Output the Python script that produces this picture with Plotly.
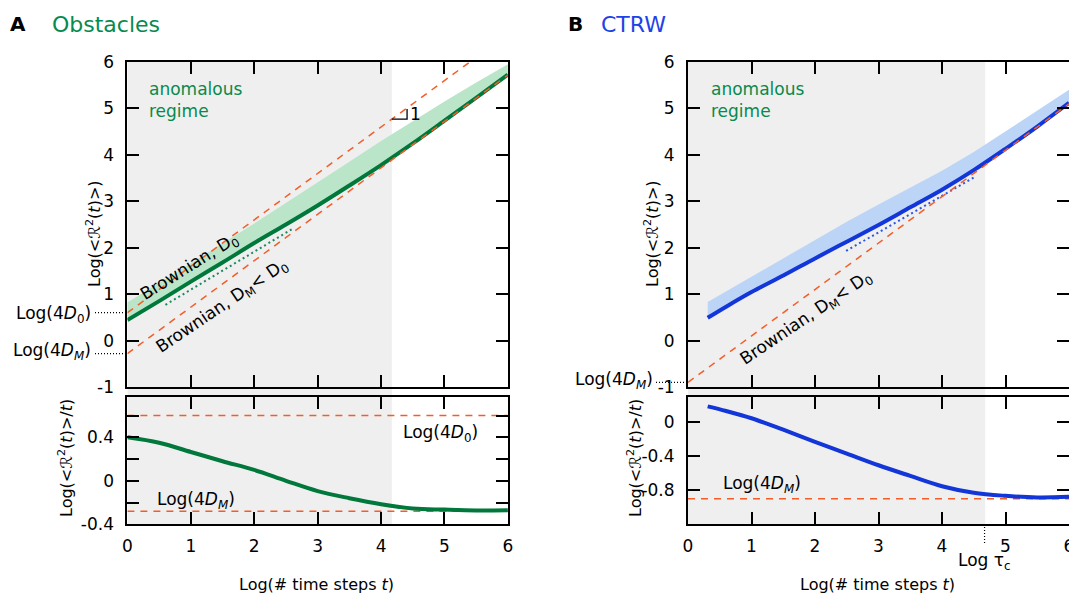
import plotly.graph_objects as go

W, H = 1069, 594

# ---------------- data ----------------
# Panel A: Obstacles
t_A = [0, 0.5, 1, 1.5, 2, 2.5, 3, 3.5, 4, 4.5, 5, 5.5, 6]
msd_A = [0.44, 0.85, 1.27, 1.68, 2.10, 2.50, 2.91, 3.34, 3.78, 4.245, 4.735, 5.23, 5.73]
band_A = [0.82, 1.24, 1.66, 2.09, 2.52, 2.96, 3.40, 3.85, 4.30, 4.73, 5.15, 5.56, 5.95]
ratio_A = [0.40, 0.35, 0.265, 0.18, 0.10, 0.0, -0.095, -0.16, -0.215, -0.255, -0.265, -0.272, -0.27]
fit_A_t = [0.6, 2.62]
fit_A_y = [0.77, 2.42]
log4D0_A = 0.6
log4DM_A = -0.28
anomalous_end_A = 4.17

# Panel B: CTRW
t_B = [0.31, 0.6, 1, 1.5, 2, 2.5, 3, 3.5, 4, 4.5, 5, 5.5, 6]
msd_B = [0.49, 0.73, 1.045, 1.40, 1.77, 2.13, 2.49, 2.87, 3.25, 3.67, 4.13, 4.61, 5.12]
band_B = [0.83, 1.06, 1.37, 1.77, 2.17, 2.56, 2.93, 3.30, 3.66, 4.06, 4.51, 4.96, 5.40]
ratio_B = [0.184, 0.13, 0.045, -0.09, -0.232, -0.37, -0.507, -0.632, -0.753, -0.83, -0.866, -0.885, -0.878]
fit_B_t = [2.49, 4.5]
fit_B_y = [1.93, 3.51]
log4DM_B = -0.9
log_tau_c = 4.67

brown_t = [0, 6]

x_ticks = [0, 1, 2, 3, 4, 5, 6]
x_ticktext = ["0", "1", "2", "3", "4", "5", "6"]
y_top_ticks = [-1, 0, 1, 2, 3, 4, 5, 6]
y_top_ticktext = ["-1", "0", "1", "2", "3", "4", "5", "6"]
yA_bot_ticks = [-0.4, -0.2, 0, 0.2, 0.4, 0.6]
yA_bot_ticktext = ["-0.4", "", "0", "", "0.4", ""]
yB_bot_ticks = [-1.2, -0.8, -0.4, 0]
yB_bot_ticktext = ["", "-0.8", "-0.4", "0"]

# ---------------- styles ----------------
FONT = "DejaVu Sans"
ORANGE = "#f45d28"
GREEN_DARK = "#00773b"
GREEN_LIGHT = "#bae5c8"
GREEN_TEXT = "#078a4d"
BLUE_DARK = "#1236d8"
BLUE_LIGHT = "#bcd5f7"
BLUE_TEXT = "#1d43e6"
GREY = "#efefef"
DASH = "7px,6px"

# layout geometry (pixels -> paper)
def px(v):
    return v / W

def py(v):
    return 1 - v / H

domA = [px(127.4), px(507.9)]
domB = [px(688), 1.0]
dom_top = [py(387), py(62)]
dom_bot = [py(524.3), py(396.5)]

fig = go.Figure()

def add(tr):
    tr.update(showlegend=False, hoverinfo="skip")
    fig.add_trace(tr)

# ---- Panel A top ----
add(go.Scatter(x=t_A + t_A[::-1], y=band_A + msd_A[::-1], fill="toself",
               fillcolor=GREEN_LIGHT, line=dict(width=0), mode="lines",
               xaxis="x", yaxis="y"))
add(go.Scatter(x=t_A, y=msd_A, mode="lines", line=dict(color=GREEN_DARK, width=4, shape="spline"),
               xaxis="x", yaxis="y"))
add(go.Scatter(x=fit_A_t, y=fit_A_y, mode="lines",
               line=dict(color="#1a8a5c", width=2, dash="2px,3px"), xaxis="x", yaxis="y"))
for c in (log4D0_A, log4DM_A):
    add(go.Scatter(x=brown_t, y=[t + c for t in brown_t], mode="lines",
                   line=dict(color=ORANGE, width=1.5, dash=DASH), xaxis="x", yaxis="y"))

# ---- Panel A bottom ----
for c in (log4D0_A, log4DM_A):
    add(go.Scatter(x=brown_t, y=[c, c], mode="lines",
                   line=dict(color=ORANGE, width=1.5, dash=DASH), xaxis="x2", yaxis="y2"))
add(go.Scatter(x=t_A, y=ratio_A, mode="lines", line=dict(color=GREEN_DARK, width=4, shape="spline"),
               xaxis="x2", yaxis="y2"))

# ---- Panel B top ----
add(go.Scatter(x=t_B + t_B[::-1], y=band_B + msd_B[::-1], fill="toself",
               fillcolor=BLUE_LIGHT, line=dict(width=0), mode="lines",
               xaxis="x3", yaxis="y3"))
add(go.Scatter(x=t_B, y=msd_B, mode="lines", line=dict(color=BLUE_DARK, width=4, shape="spline"),
               xaxis="x3", yaxis="y3"))
add(go.Scatter(x=fit_B_t, y=fit_B_y, mode="lines",
               line=dict(color="#2b55e6", width=2, dash="2px,3px"), xaxis="x3", yaxis="y3"))
add(go.Scatter(x=brown_t, y=[t + log4DM_B for t in brown_t], mode="lines",
               line=dict(color=ORANGE, width=1.5, dash=DASH), xaxis="x3", yaxis="y3"))

# ---- Panel B bottom ----
add(go.Scatter(x=brown_t, y=[log4DM_B, log4DM_B], mode="lines",
               line=dict(color=ORANGE, width=1.5, dash=DASH), xaxis="x4", yaxis="y4"))
add(go.Scatter(x=t_B, y=ratio_B, mode="lines", line=dict(color=BLUE_DARK, width=4, shape="spline"),
               xaxis="x4", yaxis="y4"))

# ---------------- axes ----------------
def axis(**kw):
    d = dict(showline=True, linewidth=2, linecolor="black", mirror="ticks",
             ticks="inside", ticklen=12, tickwidth=2, tickcolor="black",
             showgrid=False, zeroline=False, fixedrange=True, automargin=False,
             tickfont=dict(family=FONT, size=17, color="black"),
             tickmode="array", ticklabelstandoff=8)
    d.update(kw)
    return d

fig.update_layout(
    xaxis=axis(domain=domA, range=[0, 6], anchor="y", tickvals=x_ticks, ticktext=x_ticktext,
               showticklabels=False),
    yaxis=axis(domain=dom_top, range=[-1, 6], anchor="x", tickvals=y_top_ticks, ticktext=y_top_ticktext),
    xaxis2=axis(domain=domA, range=[0, 6], anchor="y2", tickvals=x_ticks, ticktext=x_ticktext,
                ticklabelstandoff=5),
    yaxis2=axis(domain=dom_bot, range=[-0.4, 0.775], anchor="x2", tickvals=yA_bot_ticks,
                ticktext=yA_bot_ticktext),
    xaxis3=axis(domain=domB, range=[0, 6], anchor="y3", tickvals=x_ticks, ticktext=x_ticktext,
                showticklabels=False),
    yaxis3=axis(domain=dom_top, range=[-1, 6], anchor="x3", tickvals=y_top_ticks, ticktext=y_top_ticktext),
    xaxis4=axis(domain=domB, range=[0, 6], anchor="y4", tickvals=x_ticks, ticktext=x_ticktext,
                ticklabelstandoff=5, ticklabeloverflow="allow"),
    yaxis4=axis(domain=dom_bot, range=[-1.2, 0.3], anchor="x4", tickvals=yB_bot_ticks,
                ticktext=yB_bot_ticktext),
)

# ---------------- shapes ----------------
shapes = [
    dict(type="rect", xref="x2", yref="paper", x0=0, x1=anomalous_end_A,
         y0=dom_bot[0], y1=dom_top[1], fillcolor=GREY, line=dict(width=0), layer="below"),
    dict(type="rect", xref="x4", yref="paper", x0=0, x1=log_tau_c + 0.01,
         y0=dom_bot[0], y1=dom_top[1], fillcolor=GREY, line=dict(width=0), layer="below"),
    # dotted leaders to the intercept labels
    dict(type="line", xref="paper", yref="y", x0=px(95), x1=domA[0], y0=log4D0_A, y1=log4D0_A,
         line=dict(color="black", width=1.2, dash="1px,2px")),
    dict(type="line", xref="paper", yref="y", x0=px(95), x1=domA[0], y0=log4DM_A, y1=log4DM_A,
         line=dict(color="black", width=1.2, dash="1px,2px")),
    dict(type="line", xref="paper", yref="y3", x0=px(656), x1=domB[0], y0=log4DM_B, y1=log4DM_B,
         line=dict(color="black", width=1.2, dash="1px,2px")),
    # Log tau_c marker
    dict(type="line", xref="x4", yref="paper", x0=log_tau_c, x1=log_tau_c,
         y0=py(543), y1=dom_bot[0], line=dict(color="black", width=1.2, dash="1px,2px")),
    # slope triangle
    dict(type="path", xref="x", yref="y",
         path=f"M {anomalous_end_A},{anomalous_end_A + log4D0_A} L 4.41,{anomalous_end_A + log4D0_A} L 4.41,{4.41 + log4D0_A - 0.02}",
         line=dict(color="black", width=1.3)),
]
fig.update_layout(shapes=shapes)

# ---------------- annotations ----------------
def note(text, x, y, size=17, color="black", xanchor="center", yanchor="middle",
         xref="paper", yref="paper", angle=0, align="center", yshift=0):
    return dict(text=text, x=x, y=y, xref=xref, yref=yref, showarrow=False,
                font=dict(family=FONT, size=size, color=color), xanchor=xanchor,
                yanchor=yanchor, textangle=angle, align=align, yshift=yshift)

ytitle_top = "Log(&lt;ℛ<sup>2</sup>(<i>t</i>)&gt;)"
ytitle_bot = "Log(&lt;ℛ<sup>2</sup>(<i>t</i>)&gt;/<i>t</i>)"
xtitle = "Log(# time steps <i>t</i>)"

anns = [
    note("<b>A</b>", px(18), py(24), size=20),
    note("Obstacles", px(50), py(24), size=22, color=GREEN_TEXT, xanchor="left"),
    note("<b>B</b>", px(575), py(24), size=20),
    note("CTRW", px(599), py(24), size=22, color=BLUE_TEXT, xanchor="left"),
    note("anomalous<br>regime", px(147), py(100), color=GREEN_TEXT, xanchor="left", align="left"),
    note("anomalous<br>regime", px(709), py(100), color=GREEN_TEXT, xanchor="left", align="left"),
    note("Brownian, D<sub>0</sub>", px(189), py(267), angle=-32),
    note("Brownian, D<sub>M</sub>&lt; D<sub>0</sub>", px(222), py(306), angle=-34),
    note("Brownian, D<sub>M</sub>&lt; D<sub>0</sub>", px(806), py(318), angle=-34),
    note("1", px(415), py(114)),
    note("Log(4<i>D</i><sub>0</sub>)", px(93), log4D0_A, xanchor="right", yref="y", yshift=-2),
    note("Log(4<i>D<sub>M</sub></i>)", px(93), log4DM_A, xanchor="right", yref="y", yshift=2),
    note("Log(4<i>D<sub>M</sub></i>)", px(655), log4DM_B, xanchor="right", yref="y3", yshift=2),
    note("Log(4<i>D</i><sub>0</sub>)", px(441), py(433)),
    note("Log(4<i>D<sub>M</sub></i>)", px(196), py(500)),
    note("Log(4<i>D<sub>M</sub></i>)", px(762), py(484)),
    note("Log τ<sub>c</sub>", log_tau_c, py(561), xref="x4"),
    note(xtitle, px(316), py(584), size=16),
    note(xtitle, px(877), py(584), size=16),
    note(ytitle_top, px(93), py(234), size=16, angle=-90),
    note(ytitle_top, px(651), py(234), size=16, angle=-90),
    note(ytitle_bot, px(65), py(458), size=16, angle=-90),
    note(ytitle_bot, px(634), py(458), size=16, angle=-90),
]
fig.update_layout(annotations=anns)

fig.update_layout(
    width=W, height=H,
    margin=dict(l=0, r=0, t=0, b=0, autoexpand=False),
    paper_bgcolor="white",
    plot_bgcolor="rgba(0,0,0,0)",
    showlegend=False,
    font=dict(family=FONT, size=17, color="black"),
)

fig.write_html("out.html", config={"displayModeBar": False},
               post_script="document.body.style.margin='0';document.body.style.overflow='hidden';")
